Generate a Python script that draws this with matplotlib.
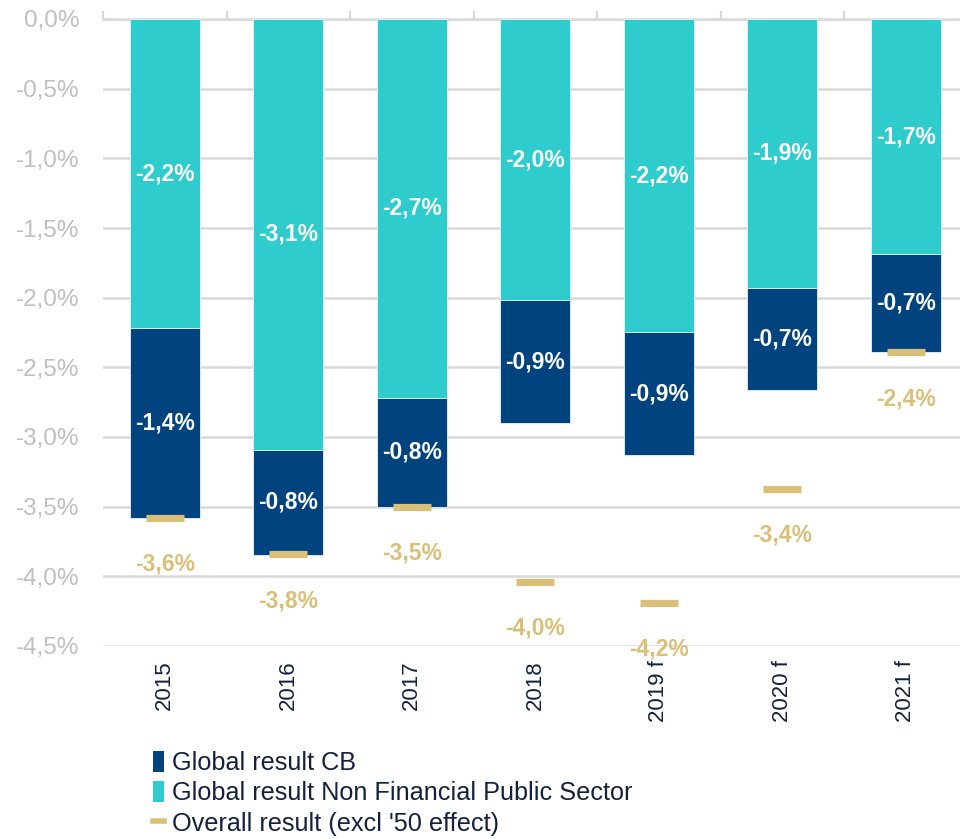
import matplotlib
matplotlib.use("Agg")
import matplotlib.pyplot as plt
from matplotlib.patches import Patch
from matplotlib.lines import Line2D
import numpy as np

years = ["2015", "2016", "2017", "2018", "2019 f", "2020 f", "2021 f"]
nfps = [-2.22, -3.09, -2.72, -2.02, -2.25, -1.93, -1.69]
cb = [-1.36, -0.76, -0.78, -0.88, -0.88, -0.73, -0.70]
overall = [-3.58, -3.84, -3.50, -4.04, -4.19, -3.37, -2.39]
yticks = [0.0, -0.5, -1.0, -1.5, -2.0, -2.5, -3.0, -3.5, -4.0, -4.5]

C_CB = "#00437F"
C_NF = "#2ECCCC"
C_OV = "#D9BF77"
C_TXT = "#14213D"
C_GRID = "#D9D9D9"
C_YLBL = "#BFBFBF"

plt.rcParams["font.family"] = ["Liberation Sans", "DejaVu Sans"]

def fmt(v):
    return f"{v:.1f}%".replace(".", ",")

fig = plt.figure(figsize=(9.6, 8.39), dpi=100)
ax = fig.add_axes([103/960, 1-646/839, 864.5/960, (646-19)/839])

x = np.arange(len(years))
w = 0.57
b1 = ax.bar(x, nfps, w, color=C_NF, edgecolor="#E8F4F8", linewidth=0.6, zorder=3)
b2 = ax.bar(x, cb, w, bottom=nfps, color=C_CB, edgecolor="#E8F4F8", linewidth=0.6, zorder=3)
ax.bar_label(b1, labels=[fmt(v) for v in nfps], label_type="center",
             color="white", fontsize=16.5, fontweight="bold", zorder=5)
ax.bar_label(b2, labels=[fmt(v) for v in cb], label_type="center",
             color="white", fontsize=16.5, fontweight="bold", zorder=5)

ax.hlines(overall, x - 0.155, x + 0.155, colors=C_OV, linewidth=5.2, zorder=4)
for xi, v in zip(x, overall):
    ax.annotate(fmt(v), (xi, v), xytext=(0, -33.5), textcoords="offset points",
                ha="center", va="center", color=C_OV, fontsize=16.5,
                fontweight="bold", annotation_clip=False, zorder=5)

ax.set_ylim(-4.5, 0)
ax.set_xlim(-0.5, 6.5)
ax.set_yticks(yticks)
ax.set_yticklabels([fmt(v) for v in yticks], color=C_YLBL, fontsize=17.5)
ax.yaxis.grid(True, color=C_GRID, linewidth=1.8, zorder=0)
ax.tick_params(axis="y", length=0, pad=17)
for s in ["left", "right", "bottom"]:
    ax.spines[s].set_visible(False)
ax.spines["top"].set_color(C_GRID)
ax.spines["top"].set_linewidth(1.8)

ax.set_xticks(x)
ax.set_xticklabels(years, rotation=90, color=C_TXT, fontsize=16, va="top")
ax.tick_params(axis="x", which="major", length=0, pad=10)
ax.set_xticks(np.arange(-0.5, 7.0, 1.0), minor=True)
ax.tick_params(axis="x", which="minor", top=True, bottom=False, length=6,
               width=1.5, color=C_GRID, direction="out")

handles = [
    Patch(facecolor=C_CB, edgecolor="none"),
    Patch(facecolor=C_NF, edgecolor="none"),
    Line2D([0], [0], color=C_OV, linewidth=4),
]
labels = ["Global result CB", "Global result Non Financial Public Sector",
          "Overall result (excl '50 effect)"]
fig.legend(handles, labels, loc="upper left", bbox_to_anchor=(153/960, 1-751/839),
           frameon=False, fontsize=18.2, labelcolor=C_TXT, handlelength=0.45,
           handleheight=0.9, handletextpad=0.3, labelspacing=0.24, borderpad=0,
           borderaxespad=0)

fig.savefig("out.png", dpi=100)
